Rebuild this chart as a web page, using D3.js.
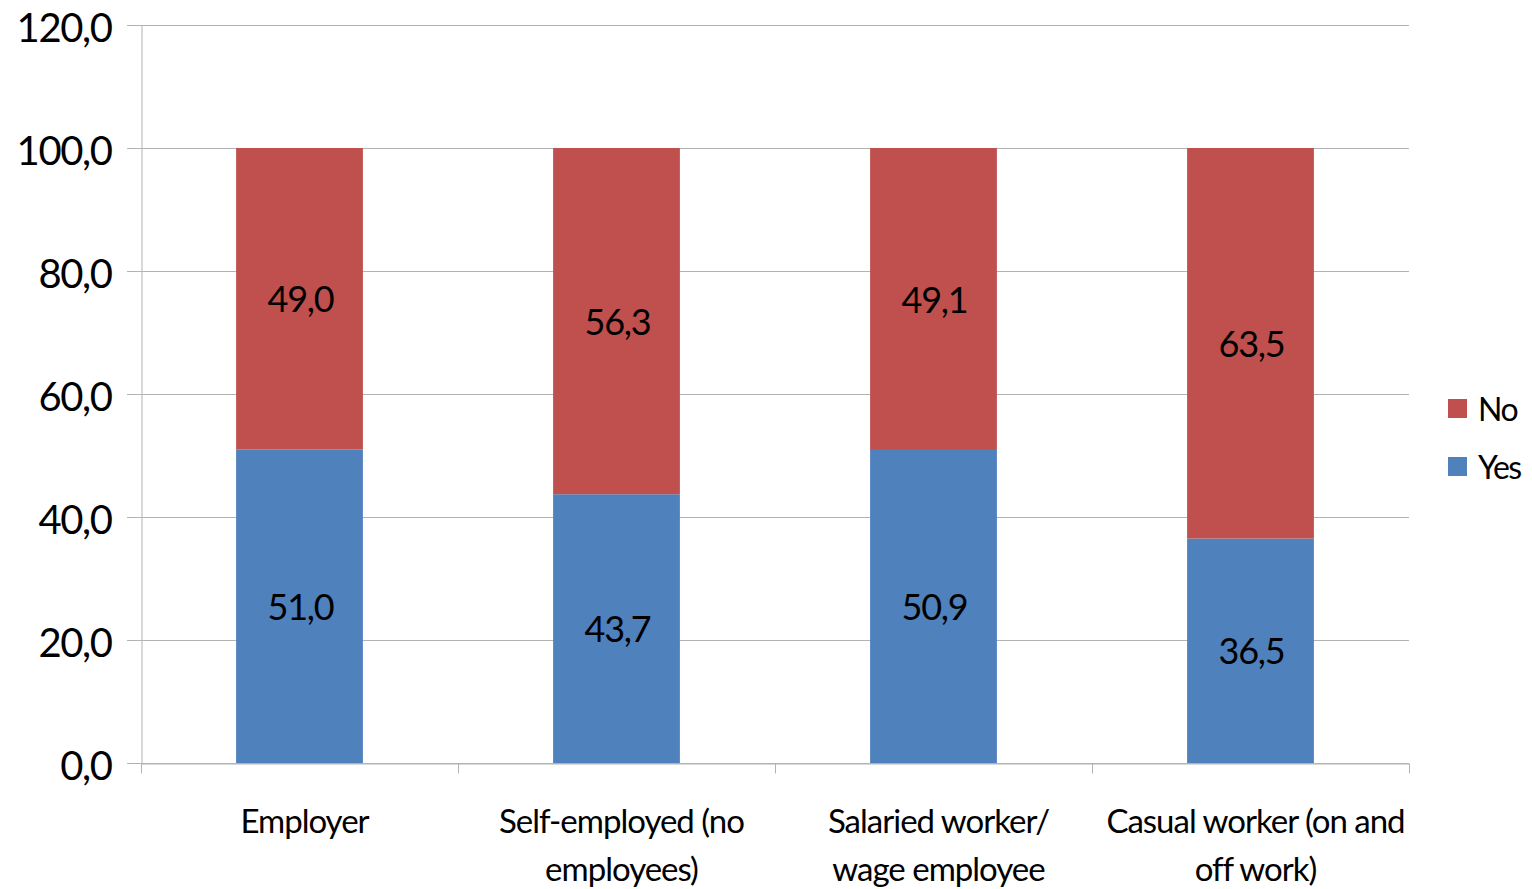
<!DOCTYPE html>
<html><head><meta charset="utf-8">
<script src="https://cdn.jsdelivr.net/npm/d3@7"></script>
<style>html,body{margin:0;padding:0;background:#fff;}</style>
</head><body>
<svg id="chart" width="1532" height="889"></svg>
<script>
const categories = ["Employer", "Self-employed (no employees)", "Salaried worker/ wage employee", "Casual worker (on and off work)"];
const categoryLines = [["Employer"], ["Self-employed (no", "employees)"], ["Salaried worker/", "wage employee"], ["Casual worker (on and", "off work)"]];
const yesValues = [51.0, 43.7, 50.9, 36.5];
const noValues = [49.0, 56.3, 49.1, 63.5];
const seriesNames = ["Yes", "No"];
const seriesColors = ["#4F81BD", "#C0504D"];
const yTicks = [0, 20, 40, 60, 80, 100, 120];

(function () {
const svg = d3.select("#chart");
const font = "Lato, 'Open Sans', sans-serif";
const mLeft = 141, mRight = 1409, mTop = 25, mBottom = 763;

const x = d3.scaleBand().domain(categories).range([mLeft, mRight]).padding(0);
const y = d3.scaleLinear().domain([0, 120]).range([mBottom, mTop]);
const fmt = v => d3.format(".1f")(v).replace(".", ",");

// gridlines
svg.append("g").selectAll("line").data(yTicks).join("line")
  .attr("x1", mLeft - 14).attr("x2", mRight)
  .attr("y1", d => Math.round(y(d)) + 0.5).attr("y2", d => Math.round(y(d)) + 0.5)
  .attr("stroke", "#b3b3b3").attr("stroke-width", 1);

// y axis
const yAxis = d3.axisLeft(y).tickValues(yTicks).tickFormat(fmt).tickSize(0).tickPadding(30);
const yg = svg.append("g").attr("transform", `translate(${mLeft + 0.5},0)`).call(yAxis);
yg.select(".domain").attr("stroke", "#b3b3b3");
yg.selectAll("text").attr("font-family", font).attr("font-size", 40).attr("fill", "#000")
  .attr("letter-spacing", -1.4).attr("dy", "0.4em");

// x axis
const xAxis = d3.axisBottom(x).tickSize(0).tickFormat("");
const xg = svg.append("g").attr("transform", `translate(0,${mBottom + 0.5})`).call(xAxis);
xg.select(".domain").attr("stroke", "#b3b3b3");
const boundaries = categories.map(c => x(c)).concat([x(categories[categories.length - 1]) + x.bandwidth()]);
xg.append("g").selectAll("line").data(boundaries).join("line")
  .attr("x1", d => Math.round(d) + 0.5).attr("x2", d => Math.round(d) + 0.5)
  .attr("y1", 0).attr("y2", 10).attr("stroke", "#b3b3b3");

// stacked bars
const rows = categories.map((c, i) => ({cat: c, Yes: yesValues[i], No: noValues[i]}));
const stack = d3.stack().keys(seriesNames)(rows);
const barW = x.bandwidth() * 0.4;
const color = d3.scaleOrdinal().domain(seriesNames).range(seriesColors);

const layers = svg.append("g").selectAll("g").data(stack).join("g").attr("fill", d => color(d.key));
layers.selectAll("rect").data(d => d).join("rect")
  .attr("x", d => x(d.data.cat) + (x.bandwidth() - barW) / 2)
  .attr("width", barW)
  .attr("y", d => y(d[1]))
  .attr("height", d => y(d[0]) - y(d[1]));

// data labels
const labels = svg.append("g");
stack.forEach(layer => {
  labels.append("g").selectAll("text").data(layer).join("text")
    .attr("x", d => x(d.data.cat) + x.bandwidth() / 2 + 1)
    .attr("y", d => (y(d[0]) + y(d[1])) / 2)
    .attr("dy", "0.38em")
    .attr("text-anchor", "middle")
    .attr("font-family", font).attr("font-size", 36).attr("letter-spacing", -1.2)
    .attr("fill", "#000")
    .text(d => fmt(d[1] - d[0]));
});

// category labels
const cl = svg.append("g");
categories.forEach((c, i) => {
  const cx = x(c) + x.bandwidth() / 2 + 5;
  const t = cl.append("text")
    .attr("x", cx)
    .attr("y", 833)
    .attr("text-anchor", "middle")
    .attr("font-family", font).attr("font-size", 33).attr("letter-spacing", -1.0)
    .attr("fill", "#000");
  categoryLines[i].forEach((line, j) => {
    t.append("tspan").attr("x", cx).attr("dy", j === 0 ? 0 : 48).text(line);
  });
});

// legend
const legendOrder = ["No", "Yes"];
const lg = svg.append("g").attr("transform", "translate(1448,399)");
legendOrder.forEach((name, i) => {
  const g = lg.append("g").attr("transform", `translate(0,${i * 58})`);
  g.append("rect").attr("width", 19).attr("height", 19).attr("fill", color(name));
  g.append("text").attr("x", 30).attr("y", 10).attr("dy", "0.38em")
    .attr("font-family", font).attr("font-size", 32).attr("letter-spacing", -1.5)
    .attr("fill", "#000").text(name);
});
})();
</script>
</body></html>
